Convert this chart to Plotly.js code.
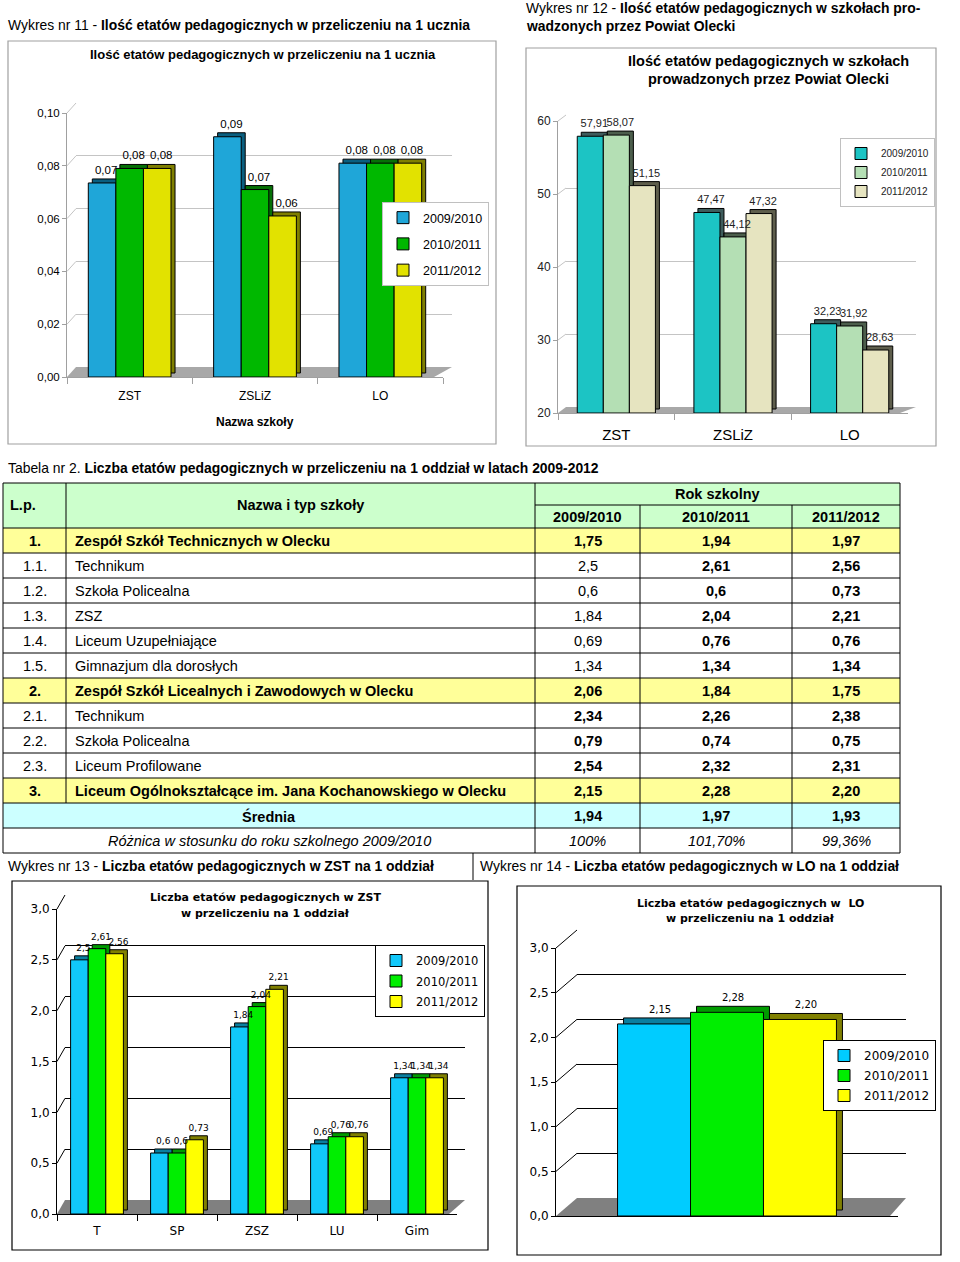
<!DOCTYPE html>
<html><head><meta charset="utf-8">
<script src="https://cdn.plot.ly/plotly-3.0.1.min.js"></script>
<style>html,body{margin:0;padding:0;background:#fff;}#chart{width:960px;height:1262px;}</style>
</head><body><div id="chart"></div>
<script>
// ---------------- DATA ----------------
const years = ['2009/2010', '2010/2011', '2011/2012'];

// Wykres 11 – etaty na 1 ucznia
const schools = ['ZST', 'ZSLiZ', 'LO'];
const perStudent2009 = [0.0735, 0.091, 0.081];
const perStudent2010 = [0.079, 0.071, 0.081];
const perStudent2011 = [0.079, 0.061, 0.081];

// Wykres 12 – etaty w szkołach
const fte2009 = [57.91, 47.47, 32.23];
const fte2010 = [58.07, 44.12, 31.92];
const fte2011 = [51.15, 47.32, 28.63];

// Wykres 13 – ZST na 1 oddział
const zstTypes = ['T', 'SP', 'ZSZ', 'LU', 'Gim'];
const zst2009 = [2.5, 0.6, 1.84, 0.69, 1.34];
const zst2010 = [2.61, 0.6, 2.04, 0.76, 1.34];
const zst2011 = [2.56, 0.73, 2.21, 0.76, 1.34];

// Wykres 14 – LO na 1 oddział
const loCategory = ['LO'];
const lo2009 = [2.15];
const lo2010 = [2.28];
const lo2011 = [2.20];

// Tabela nr 2
const tabLp = ['1.', '1.1.', '1.2.', '1.3.', '1.4.', '1.5.', '2.', '2.1.', '2.2.', '2.3.', '3.'];
const tabName = ['Zespół Szkół Technicznych w Olecku', 'Technikum', 'Szkoła Policealna', 'ZSZ',
  'Liceum Uzupełniające', 'Gimnazjum dla dorosłych', 'Zespół Szkół Licealnych i Zawodowych w Olecku',
  'Technikum', 'Szkoła Policealna', 'Liceum Profilowane', 'Liceum Ogólnokształcące im. Jana Kochanowskiego w Olecku'];
const tab2009 = ['1,75', '2,5', '0,6', '1,84', '0,69', '1,34', '2,06', '2,34', '0,79', '2,54', '2,15'];
const tab2010 = ['1,94', '2,61', '0,6', '2,04', '0,76', '1,34', '1,84', '2,26', '0,74', '2,32', '2,28'];
const tab2011 = ['1,97', '2,56', '0,73', '2,21', '0,76', '1,34', '1,75', '2,38', '0,75', '2,31', '2,20'];
const avgLabel = 'Średnia';
const avgValues = ['1,94', '1,97', '1,93'];
const diffLabel = 'Różnica w stosunku do roku szkolnego 2009/2010';
const diffValues = ['100%', '101,70%', '99,36%'];

// ---------------- HELPERS ----------------
const W = 960, H = 1262;
const fx = x => x / W, fy = y => 1 - y / H;
const SANS = '"Liberation Sans", Arial, sans-serif';
const VERD = '"DejaVu Sans", Verdana, sans-serif';
const comma = (v, d) => (d == null ? String(v) : v.toFixed(d)).replace('.', ',');

const charts = [
  { cats: schools, series: [perStudent2009, perStudent2010, perStudent2011], range: [0, 0.1],
    front: { x0: 67, x1: 443, y0: 377, y1: 113 }, back: { x0: 76, x1: 452, y0: 367, y1: 103 },
    grid: [0.02, 0.04, 0.06, 0.08, 0.1], ticks: [0, 0.02, 0.04, 0.06, 0.08, 0.1], tickfmt: '.2f',
    group: 0.66, depth: 4, fmt: v => comma(v, 2),
    colors: ['#1fa6d8', '#00b800', '#e2e200'], sides: ['#0a5f80', '#067006', '#7f7f00'],
    gridColor: '#c4c4c4', axisColor: '#a0a0a0', floor: '#a8a8a8',
    tickFont: { family: SANS, size: 11.5, color: '#000' }, labelFont: { family: SANS, size: 11.5, color: '#000' },
    xFont: { family: SANS, size: 12, color: '#000' }, xStandoff: 8, showX: true },
  { cats: schools, series: [fte2009, fte2010, fte2011], range: [20, 60],
    front: { x0: 558, x1: 908, y0: 413, y1: 121 }, back: { x0: 566, x1: 916, y0: 407, y1: 115 },
    grid: [30, 40, 50, 60], ticks: [20, 30, 40, 50, 60], tickfmt: 'd',
    group: 0.67, depth: 4, fmt: v => comma(v, 2),
    colors: ['#1cc4c4', '#b4dfb4', '#e6e4c0'], sides: ['#3e5c5c', '#4c5e4c', '#5e5e4c'],
    gridColor: '#c4c4c4', axisColor: '#a0a0a0', floor: '#a8a8a8',
    tickFont: { family: SANS, size: 12, color: '#222' }, labelFont: { family: SANS, size: 11, color: '#222' },
    xFont: { family: SANS, size: 15, color: '#000' }, xStandoff: 8, showX: true },
  { cats: zstTypes, series: [zst2009, zst2010, zst2011], range: [0, 3],
    front: { x0: 57, x1: 457, y0: 1214, y1: 909 }, back: { x0: 65, x1: 465, y0: 1200, y1: 895 },
    grid: [0.5, 1, 1.5, 2, 2.5], ticks: [0, 0.5, 1, 1.5, 2, 2.5, 3], tickfmt: '.1f',
    group: 0.66, depth: 4, fmt: v => comma(v),
    colors: ['#11c8fa', '#00ee00', '#ffff00'], sides: ['#0a7fa0', '#009a00', '#808000'],
    gridColor: '#000', axisColor: '#000', floor: '#808080',
    tickFont: { family: VERD, size: 12, color: '#000' }, labelFont: { family: VERD, size: 9, color: '#000' },
    xFont: { family: VERD, size: 12, color: '#000' }, xStandoff: 6, showX: true },
  { cats: loCategory, series: [lo2009, lo2010, lo2011], range: [0, 3],
    front: { x0: 556, x1: 898, y0: 1216, y1: 948 }, back: { x0: 577, x1: 906, y0: 1198, y1: 930 },
    grid: [0.5, 1, 1.5, 2, 2.5], ticks: [0, 0.5, 1, 1.5, 2, 2.5, 3], tickfmt: '.1f',
    group: 0.64, depth: 6, fmt: v => comma(v, 2),
    colors: ['#00ccff', '#00ee00', '#ffff00'], sides: ['#0a7fa0', '#009a00', '#808000'],
    gridColor: '#000', axisColor: '#000', floor: '#808080',
    tickFont: { family: VERD, size: 12, color: '#000' }, labelFont: { family: VERD, size: 10, color: '#000' },
    xFont: { family: VERD, size: 12, color: '#000' }, xStandoff: 6, showX: false }
];

const legends = [
  { right: 489, top: 202, font: { family: SANS, size: 12.5, color: '#000' }, gap: 7, border: '#c0c0c0' },
  { right: 935, top: 138, font: { family: SANS, size: 10, color: '#222' }, gap: 0, border: '#c0c0c0' },
  { right: 485, top: 945, font: { family: VERD, size: 11.5, color: '#000' }, gap: 1.5, border: '#000' },
  { right: 936, top: 1040, font: { family: VERD, size: 12, color: '#000' }, gap: 1, border: '#000' }
];

const traces = [];
const layout = {
  width: W, height: H, margin: { l: 0, r: 0, t: 0, b: 0 },
  paper_bgcolor: '#fff', plot_bgcolor: 'rgba(0,0,0,0)',
  separators: ', ', showlegend: true, barmode: 'overlay',
  shapes: [], annotations: []
};

charts.forEach((c, k) => {
  const bi = k + 1, fi = k + 5;          // back-wall grid axes, front bar axes
  const bx = 'x' + (bi === 1 ? '' : bi), by = 'y' + (bi === 1 ? '' : bi);
  const fxId = 'x' + fi, fyId = 'y' + fi;
  const lgId = k === 0 ? 'legend' : 'legend' + (k + 1);
  const nCat = c.cats.length;
  // back wall (gridlines)
  layout['xaxis' + (bi === 1 ? '' : bi)] = { domain: [fx(c.back.x0), fx(c.back.x1)], anchor: by, range: [0, 1],
    visible: true, showgrid: false, showline: false, zeroline: false, showticklabels: false, ticks: '', fixedrange: true };
  layout['yaxis' + (bi === 1 ? '' : bi)] = { domain: [fy(c.back.y0), fy(c.back.y1)], anchor: bx, range: c.range,
    tickvals: c.grid, showgrid: true, gridcolor: c.gridColor, gridwidth: 1, showline: false, zeroline: false,
    showticklabels: false, ticks: '', fixedrange: true };
  traces.push({ type: 'scatter', x: [], y: [], xaxis: bx, yaxis: by, showlegend: false, hoverinfo: 'skip' });
  // front axes
  layout['xaxis' + fi] = { domain: [fx(c.front.x0), fx(c.front.x1)], anchor: fyId, type: 'category',
    range: [-0.5, nCat - 0.5], showgrid: false, zeroline: false, showline: true, linecolor: c.axisColor,
    ticks: c.showX ? 'outside' : '', tickson: 'boundaries', ticklen: 6, tickcolor: c.axisColor,
    showticklabels: c.showX, tickfont: c.xFont, ticklabelstandoff: c.xStandoff, fixedrange: true };
  layout['yaxis' + fi] = { domain: [fy(c.front.y0), fy(c.front.y1)], anchor: fxId, range: c.range,
    tickvals: c.ticks, tickformat: c.tickfmt, showgrid: false, zeroline: false, showline: true,
    linecolor: c.axisColor, ticks: 'outside', ticklen: 4, tickcolor: c.axisColor, tickfont: c.tickFont,
    fixedrange: true };

  // floor and connectors
  const pxPerVal = (c.front.y0 - c.front.y1) / (c.range[1] - c.range[0]);
  const frontY = v => c.front.y0 - (v - c.range[0]) * pxPerVal;
  const backY = v => c.back.y0 - (v - c.range[0]) * pxPerVal;
  layout.shapes.push({ type: 'path', xref: 'paper', yref: 'paper', layer: 'below',
    path: `M${fx(c.front.x0)},${fy(c.front.y0)} L${fx(c.front.x1 - (c.back.x1 - c.front.x1))},${fy(c.front.y0)} L${fx(c.back.x1)},${fy(c.back.y0)} L${fx(c.back.x0)},${fy(c.back.y0)} Z`,
    fillcolor: c.floor, line: { width: 0 } });
  c.ticks.forEach(t => {
    if (t === c.range[0]) return;
    layout.shapes.push({ type: 'line', xref: 'paper', yref: 'paper', layer: 'below',
      x0: fx(c.front.x0), y0: fy(frontY(t)), x1: fx(c.back.x0), y1: fy(backY(t)),
      line: { color: c.gridColor, width: 1 } });
  });

  // bars (3D look: dark depth bar behind the front face), then labels on top
  const w = c.group / 3;
  const pxPerCat = (c.front.x1 - c.front.x0) / nCat;
  const dx = c.depth / pxPerCat, dy = c.depth / pxPerVal;
  const lift = c.range[0] > 0;
  const depthBars = [], fronts = [], labels = [];
  c.series.forEach((vals, i) => {
    const off = -c.group / 2 + i * w;
    const len = lift ? vals.map(v => v - c.range[0]) : vals;
    const common = { type: 'bar', x: c.cats, y: len, width: w, xaxis: fxId, yaxis: fyId,
      cliponaxis: false, hoverinfo: 'skip' };
    depthBars.push(Object.assign({}, common, { base: (lift ? c.range[0] : 0) + dy, offset: off + dx,
      marker: { color: c.sides[i], line: { color: '#000', width: 1 } }, textposition: 'none', showlegend: false }));
    fronts.push(Object.assign({}, common, { name: years[i], base: lift ? c.range[0] : 0, offset: off,
      marker: { color: c.colors[i], line: { color: '#000', width: 1 } }, textposition: 'none',
      legend: lgId, legendgroup: lgId + i, showlegend: true }));
    labels.push(Object.assign({}, common, { base: (lift ? c.range[0] : 0) + dy, offset: off + dx,
      marker: { color: 'rgba(0,0,0,0)', line: { width: 0 } }, text: vals.map(c.fmt),
      textposition: 'outside', textfont: c.labelFont, constraintext: 'none', showlegend: false }));
  });
  traces.push(...depthBars, ...fronts, ...labels);

  const L = legends[k];
  layout[lgId] = { x: fx(L.right), xanchor: 'right', y: fy(L.top), yanchor: 'top', bgcolor: '#fff',
    bordercolor: L.border, borderwidth: 1, font: L.font, tracegroupgap: L.gap, traceorder: 'grouped' };
});

// chart boxes
[[8, 41, 496, 444, '#a0a0a0'], [526, 48, 936, 446, '#a0a0a0'], [12, 881, 488, 1250, '#000'], [517, 886, 941, 1255, '#000']]
  .forEach(b => layout.shapes.push({ type: 'rect', xref: 'paper', yref: 'paper', layer: 'below',
    x0: fx(b[0]), y0: fy(b[1]), x1: fx(b[2]), y1: fy(b[3]), line: { color: b[4], width: 1.2 }, fillcolor: 'rgba(0,0,0,0)' }));
layout.shapes.push({ type: 'line', xref: 'paper', yref: 'paper', x0: fx(473), x1: fx(473), y0: fy(853), y1: fy(880), line: { color: '#000', width: 1 } });

// text helper
function note(x, y, text, font, xanchor) {
  layout.annotations.push({ xref: 'paper', yref: 'paper', x: fx(x), y: fy(y), text: text, showarrow: false,
    xanchor: xanchor || 'left', yanchor: 'middle', font: font, align: xanchor === 'center' ? 'center' : 'left' });
}
const HF = { family: SANS, size: 13.9, color: '#000' };
note(6, 25, 'Wykres nr 11 - <b>Ilość etatów pedagogicznych w przeliczeniu na 1 ucznia</b>', HF);
note(263, 55, '<b>Ilość etatów pedagogicznych w przeliczeniu na 1 ucznia</b>', { family: SANS, size: 13, color: '#000' }, 'center');
note(255, 422, '<b>Nazwa szkoły</b>', { family: SANS, size: 12, color: '#000' }, 'center');
note(524, 8, 'Wykres nr 12 - <b>Ilość etatów pedagogicznych w szkołach pro-</b>', HF);
note(524, 26, '<b>wadzonych przez Powiat Olecki</b>', HF);
note(768, 61, '<b>Ilość etatów pedagogicznych w szkołach</b>', { family: SANS, size: 14.5, color: '#000' }, 'center');
note(768, 79, '<b>prowadzonych przez Powiat Olecki</b>', { family: SANS, size: 14.5, color: '#000' }, 'center');
note(6, 468, 'Tabela nr 2. <b>Liczba etatów pedagogicznych w przeliczeniu na 1 oddział w latach 2009-2012</b>', HF);
note(6, 866, 'Wykres nr 13 - <b>Liczba etatów pedagogicznych w ZST na 1 oddział</b>', HF);
note(478, 866, 'Wykres nr 14 - <b>Liczba etatów pedagogicznych w LO na 1 oddział</b>', HF);
const TF = { family: VERD, size: 11, color: '#000' };
note(265, 897, '<b>Liczba etatów pedagogicznych w ZST</b>', TF, 'center');
note(265, 913, '<b>w przeliczeniu na 1 oddział</b>', TF, 'center');
note(750, 903, '<b>Liczba etatów pedagogicznych w  LO</b>', TF, 'center');
note(750, 919, '<b>w przeliczeniu na 1 oddział</b>', TF, 'center');

// ---------------- TABLE ----------------
const colX = [3, 66, 535, 640, 792, 900];
const tTop = 483, tMid = 505, bodyTop = 528, rowH = 25;
const nRows = tabLp.length + 2;
const tBottom = bodyTop + nRows * rowH;
const rectFill = (x0, y0, x1, y1, col) => layout.shapes.push({ type: 'rect', xref: 'paper', yref: 'paper', layer: 'below',
  x0: fx(x0), y0: fy(y0), x1: fx(x1), y1: fy(y1), fillcolor: col, line: { width: 0 } });
const hline = (y, x0, x1) => layout.shapes.push({ type: 'line', xref: 'paper', yref: 'paper', layer: 'above',
  x0: fx(x0), x1: fx(x1), y0: fy(y), y1: fy(y), line: { color: '#000', width: 1 } });
const vline = (x, y0, y1) => layout.shapes.push({ type: 'line', xref: 'paper', yref: 'paper', layer: 'above',
  x0: fx(x), x1: fx(x), y0: fy(y0), y1: fy(y1), line: { color: '#000', width: 1 } });

rectFill(colX[0], tTop, colX[5], bodyTop, '#ccffcc');
tabLp.forEach((lp, r) => {
  if (/^\d+\.$/.test(lp)) rectFill(colX[0], bodyTop + r * rowH, colX[5], bodyTop + (r + 1) * rowH, '#ffff99');
});
rectFill(colX[0], bodyTop + tabLp.length * rowH, colX[5], bodyTop + (tabLp.length + 1) * rowH, '#ccffff');

hline(tTop, colX[0], colX[5]);
hline(tMid, colX[2], colX[5]);
for (let r = 0; r <= nRows; r++) hline(bodyTop + r * rowH, colX[0], colX[5]);
vline(colX[0], tTop, tBottom); vline(colX[5], tTop, tBottom); vline(colX[2], tTop, tBottom);
vline(colX[1], tTop, bodyTop + tabLp.length * rowH);
vline(colX[3], tMid, tBottom); vline(colX[4], tMid, tBottom);

const TB = { family: SANS, size: 14.5, color: '#000' };
const cx = i => (colX[i] + colX[i + 1]) / 2;
note(8, (tTop + bodyTop) / 2, '<b>L.p.</b>', TB);
note(cx(1), (tTop + bodyTop) / 2, '<b>Nazwa i typ szkoły</b>', TB, 'center');
note((colX[2] + colX[5]) / 2, (tTop + tMid) / 2 + 0.5, '<b>Rok szkolny</b>', TB, 'center');
years.forEach((yr, i) => note(cx(i + 2), (tMid + bodyTop) / 2 + 0.5, '<b>' + yr + '</b>', TB, 'center'));

tabLp.forEach((lp, r) => {
  const yc = bodyTop + r * rowH + rowH / 2 + 0.5;
  const main = /^\d+\.$/.test(lp);
  const b = s => '<b>' + s + '</b>';
  note(cx(0), yc, main ? b(lp) : lp, TB, 'center');
  note(colX[1] + 7, yc, main ? b(tabName[r]) : tabName[r], TB);
  const firstBold = main || !lp.startsWith('1.');
  note(cx(2), yc, firstBold ? b(tab2009[r]) : tab2009[r], TB, 'center');
  note(cx(3), yc, b(tab2010[r]), TB, 'center');
  note(cx(4), yc, b(tab2011[r]), TB, 'center');
});
const yAvg = bodyTop + tabLp.length * rowH + rowH / 2 + 0.5;
note((colX[0] + colX[2]) / 2, yAvg, '<b>' + avgLabel + '</b>', TB, 'center');
avgValues.forEach((v, i) => note(cx(i + 2), yAvg, '<b>' + v + '</b>', TB, 'center'));
const yDiff = yAvg + rowH;
note((colX[0] + colX[2]) / 2, yDiff, '<i>' + diffLabel + '</i>', TB, 'center');
diffValues.forEach((v, i) => note(cx(i + 2), yDiff, '<i>' + v + '</i>', TB, 'center'));

Plotly.newPlot('chart', traces, layout, { staticPlot: true, displayModeBar: false });
</script>
</body></html>
